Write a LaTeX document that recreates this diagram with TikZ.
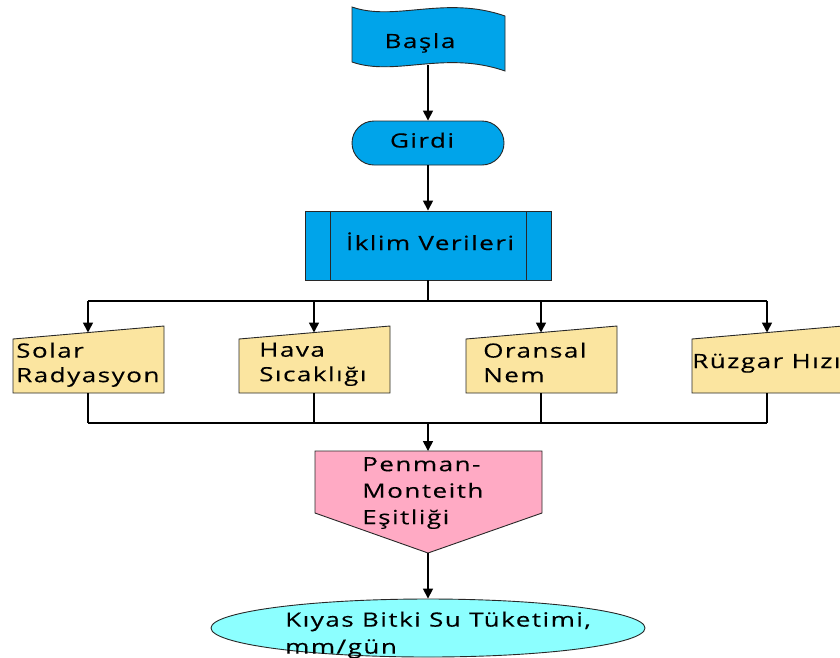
\documentclass[tikz,border=0pt]{standalone}
\usepackage{fontspec}
\setmainfont{Open Sans}[FakeStretch=1.33,LetterSpace=7.5,FakeBold=0.25]
\usetikzlibrary{arrows.meta,shapes.geometric}
\definecolor{cblue}{RGB}{0,164,234}
\definecolor{cyel}{RGB}{251,229,160}
\definecolor{cpink}{RGB}{255,170,196}
\definecolor{ccyan}{RGB}{140,255,255}
\definecolor{cedge}{RGB}{40,40,40}
\tikzset{
  shp/.style={draw=cedge,line width=0.9pt,line join=miter},
  conn/.style={line width=1.6pt,black},
  arr/.style={conn,-{Triangle[length=10pt,width=10pt]}},
  lbl/.style={inner sep=0pt,font=\fontsize{19.6}{24.5}\selectfont,align=left,text=black},
}
\begin{document}
\begin{tikzpicture}[x=1pt,y=-1pt]
\useasboundingbox (0,0) rectangle (840,657);
\clip (0,0) rectangle (840,657);
% Basla flag
\draw[shp,fill=cblue] (352,7) .. controls (395,22) and (445,-5) .. (505,16)
  -- (505,71) .. controls (445,50) and (395,77) .. (352,62) -- cycle;
\node[lbl,anchor=base] (basla) at (420,48) {Başla};
\coordinate (baslabot) at (428,65);
% Girdi
\node[shp,fill=cblue,rounded corners=22pt,minimum width=152pt,minimum height=44pt,inner sep=0pt] (girdi) at (428,143) {};
\node[lbl,anchor=base] (girditxt) at (422,147.5) {Girdi};
% Iklim
\node[shp,fill=cblue,minimum width=246pt,minimum height=69pt,inner sep=0pt] (iklim) at (428,245.5) {};
\draw[shp] (330,211) -- (330,280) (526,211) -- (526,280);
\node[lbl,anchor=base] (iklimtxt) at (430,250) {İklim Verileri};
% manual inputs
\foreach \x/\n in {13/solar,239/hava,466/oran,692/ruz}{
  \draw[shp,fill=cyel] (\x,339) -- (\x+151,326) -- (\x+151,393) -- (\x,393) -- cycle;
  \coordinate (\n top) at (\x+75,332.5);
  \coordinate (\n bot) at (\x+75,393);
}
\node[lbl,anchor=north west] (solartxt) at (16,342.5) {Solar\\Radyasyon};
\node[lbl,anchor=north west] (havatxt) at (259,342.5) {Hava\\Sıcaklığı};
\node[lbl,anchor=north west] (orantxt) at (483,342.5) {Oransal\\Nem};
\node[lbl,anchor=base west] (ruztxt) at (692,368) {Rüzgar Hızı};
% Penman
\draw[shp,fill=cpink] (315,451) -- (542,451) -- (542,513) -- (428,553) -- (315,513) -- cycle;
\coordinate (pentop) at (428,451);
\coordinate (penbot) at (428,553);
\node[lbl,anchor=north west,font=\fontsize{19.6}{26.5}\selectfont] (pentxt) at (362,457) {Penman-\\Monteith\\Eşitliği};
% Ellipse
\node[shp,fill=ccyan,ellipse,minimum width=434pt,minimum height=58pt,inner sep=0pt] (kiyas) at (428,628) {};
\node[lbl,anchor=north west,font=\fontsize{19.6}{27}\selectfont] (kiyastxt) at (285,611.5) {Kıyas Bitki Su Tüketimi,\\mm/gün};
% connectors
\coordinate (split) at (428,301);
\coordinate (merge) at (428,423);
\draw[arr] (baslabot) -- (girdi.north);
\draw[arr] (girdi.south) -- (iklim.north);
\draw[conn] (iklim.south) -- (split);
\draw[conn] (solartop |- split) -- (ruztop |- split);
\foreach \n in {solar,hava,oran,ruz}{
  \draw[arr] (\n top |- split) -- (\n top);
  \draw[conn] (\n bot) -- (\n bot |- merge);
}
\draw[conn] (solarbot |- merge) -- (ruzbot |- merge);
\draw[arr] (merge) -- (pentop);
\draw[arr] (penbot) -- (kiyas.north);
\end{tikzpicture}
\end{document}
